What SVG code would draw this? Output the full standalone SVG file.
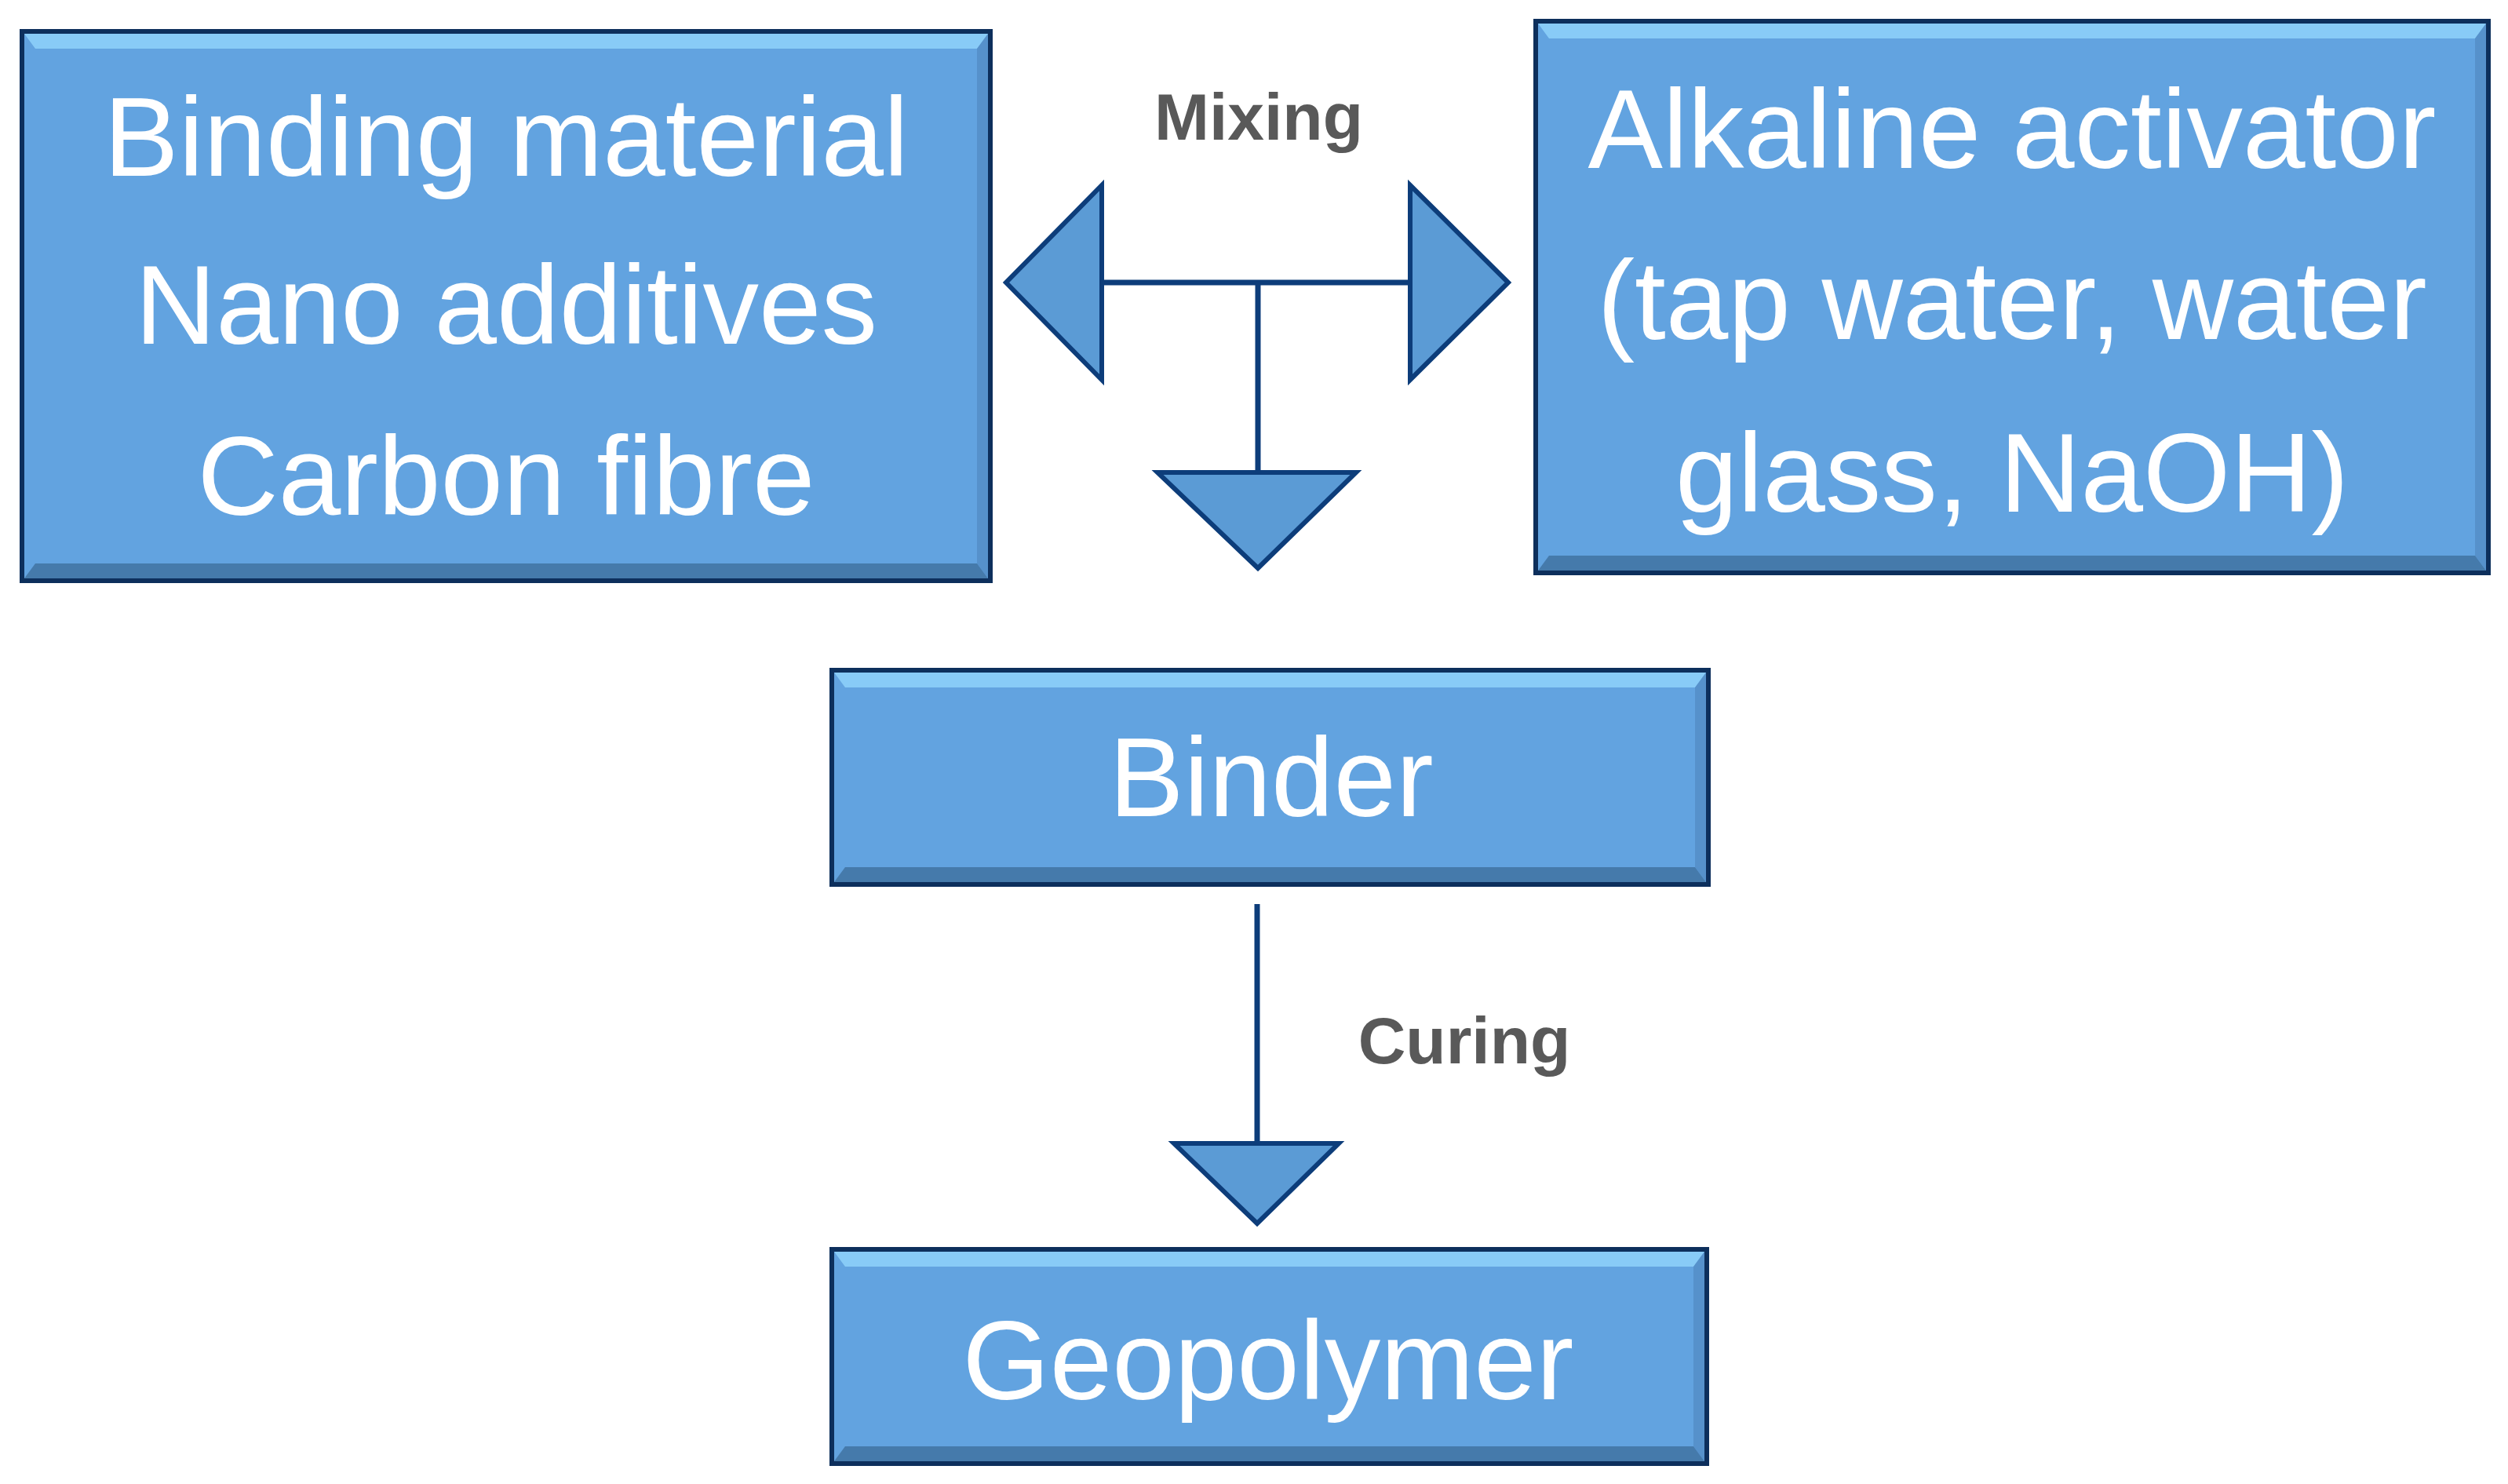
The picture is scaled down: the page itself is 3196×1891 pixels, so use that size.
<svg xmlns="http://www.w3.org/2000/svg" width="3196" height="1891" viewBox="0 0 3196 1891">
<defs>
<style>
.box{fill:#62a3e0;stroke:#0d2f5c;stroke-width:6}
.top{fill:#8fd2fa;opacity:0.85}
.bot{fill:#3f6f9e;opacity:0.8}
.side{fill:#4f86bd;opacity:0.6}
.t{font-family:"Liberation Sans",Arial,sans-serif;font-size:143px;fill:#ffffff;text-anchor:middle}
.lbl{font-family:"Liberation Sans",Arial,sans-serif;font-size:84px;font-weight:bold;fill:#595959;text-anchor:middle}
.ln{stroke:#0d3d7a;stroke-width:7;fill:none}
.tri{fill:#5b9bd5;stroke:#0d3d7a;stroke-width:6;stroke-linejoin:miter}
</style>
</defs>
<rect width="3196" height="1891" fill="#ffffff"/>
<g id="node-binding">
<rect class="box" x="28" y="40" width="1234" height="700"/>
<polygon class="top" points="31,43 1259,43 1245,62 45,62"/>
<polygon class="bot" points="31,737 1259,737 1245,718 45,718"/>
<polygon class="side" points="1259,43 1259,737 1245,718 1245,62"/>
<text class="t" x="645" y="224">Binding material</text>
<text class="t" x="645" y="438">Nano additives</text>
<text class="t" x="645" y="656">Carbon fibre</text>
</g>
<g id="node-activator">
<rect class="box" x="1957" y="27" width="1214" height="703"/>
<polygon class="top" points="1960,30 3168,30 3154,49 1974,49"/>
<polygon class="bot" points="1960,727 3168,727 3154,708 1974,708"/>
<polygon class="side" points="3168,30 3168,727 3154,708 3154,49"/>
<text class="t" x="2564" y="214">Alkaline activator</text>
<text class="t" x="2564" y="432">(tap water, water</text>
<text class="t" x="2564" y="652">glass, NaOH)</text>
</g>
<g id="node-binder">
<rect class="box" x="1060" y="854" width="1117" height="273"/>
<polygon class="top" points="1063,857 2174,857 2160,876 1077,876"/>
<polygon class="bot" points="1063,1124 2174,1124 2160,1105 1077,1105"/>
<polygon class="side" points="2174,857 2174,1124 2160,1105 2160,876"/>
<text class="t" x="1620" y="1040">Binder</text>
</g>
<g id="node-geopolymer">
<rect class="box" x="1060" y="1592" width="1115" height="273"/>
<polygon class="top" points="1063,1595 2172,1595 2158,1614 1077,1614"/>
<polygon class="bot" points="1063,1862 2172,1862 2158,1843 1077,1843"/>
<polygon class="side" points="2172,1595 2172,1862 2158,1843 2158,1614"/>
<text class="t" x="1616" y="1783">Geopolymer</text>
</g>
<g id="connectors">
<line class="ln" x1="1404" y1="360" x2="1797" y2="360"/>
<line class="ln" x1="1603" y1="360" x2="1603" y2="602"/>
<polygon class="tri" points="1404,236 1282,360 1404,484"/>
<polygon class="tri" points="1797,236 1922,360 1797,484"/>
<polygon class="tri" points="1475,602 1728,602 1603,724"/>
<line class="ln" x1="1602" y1="1152" x2="1602" y2="1457"/>
<polygon class="tri" points="1496,1457 1706,1457 1602,1559"/>
<text class="lbl" x="1604" y="178">Mixing</text>
<text class="lbl" x="1866" y="1355">Curing</text>
</g>
</svg>
